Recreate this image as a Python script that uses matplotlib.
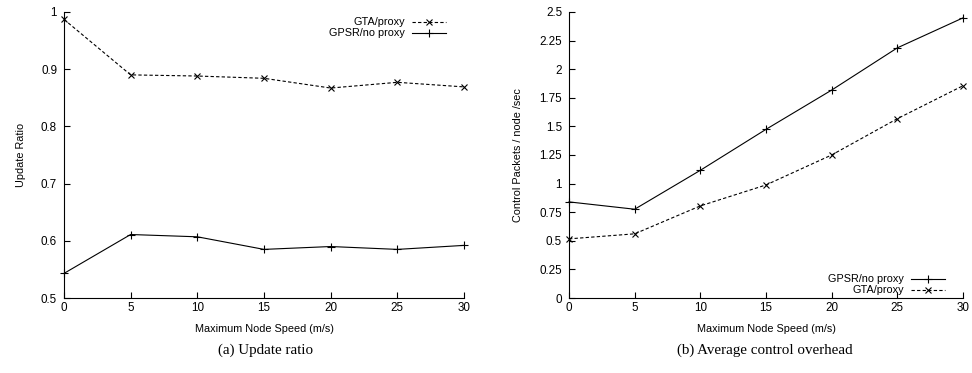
import matplotlib
matplotlib.use('Agg')
import matplotlib.pyplot as plt

plt.rcParams['font.family'] = ['Liberation Sans', 'DejaVu Sans']

# data
speed = [0, 5, 10, 15, 20, 25, 30]
upd_gta = [0.987, 0.890, 0.888, 0.884, 0.867, 0.877, 0.869]
upd_gpsr = [0.543, 0.611, 0.607, 0.585, 0.590, 0.585, 0.592]
ovh_gpsr = [0.84, 0.776, 1.116, 1.474, 1.817, 2.186, 2.448]
ovh_gta = [0.517, 0.561, 0.805, 0.988, 1.250, 1.567, 1.855]
upd_ticks = [0.5, 0.6, 0.7, 0.8, 0.9, 1]
ovh_ticks = [0, 0.25, 0.5, 0.75, 1, 1.25, 1.5, 1.75, 2, 2.25, 2.5]
ovh_labels = ['0', '0.25', '0.5', '0.75', '1', '1.25', '1.5', '1.75', '2', '2.25', '2.5']

fig = plt.figure(figsize=(9.72, 3.73), dpi=100)
ax1 = fig.add_axes([0.0658, 0.201, 0.4116, 0.767])
ax2 = fig.add_axes([0.5854, 0.201, 0.4053, 0.767])

lw = 0.8
dash = (0, (3, 2))
fs = 7.8
tfs = 8.4


def style(ax):
    for s in ['top', 'right']:
        ax.spines[s].set_visible(False)
    for s in ['left', 'bottom']:
        ax.spines[s].set_linewidth(0.8)
    ax.tick_params(direction='in', length=4, width=0.8, labelsize=tfs)
    ax.tick_params(axis='y', pad=5)
    ax.tick_params(axis='x', pad=3)
    ax.set_xlim(0, 30)
    ax.set_xticks(speed)
    ax.set_xlabel('Maximum Node Speed (m/s)', fontsize=fs, labelpad=7)


ax1.plot(speed, upd_gta, color='black', lw=lw, ls=dash, marker='x', ms=5, mew=0.8,
         clip_on=False, label='GTA/proxy')
ax1.plot(speed, upd_gpsr, color='black', lw=lw, marker='+', ms=6, mew=0.8,
         clip_on=False, label='GPSR/no proxy')
ax1.set_ylim(0.5, 1)
ax1.set_yticks(upd_ticks)
ax1.set_yticklabels(['0.5', '0.6', '0.7', '0.8', '0.9', '1'])
style(ax1)
ax1.set_ylabel('Update Ratio', fontsize=fs, labelpad=11)
ax1.legend(loc='upper right', bbox_to_anchor=(0.98, 1.015), frameon=False, markerfirst=False,
           fontsize=fs, handlelength=3.2, handletextpad=0.6, labelspacing=0.1)

ax2.plot(speed, ovh_gpsr, color='black', lw=lw, marker='+', ms=6, mew=0.8,
         clip_on=False, label='GPSR/no proxy')
ax2.plot(speed, ovh_gta, color='black', lw=lw, ls=dash, marker='x', ms=5, mew=0.8,
         clip_on=False, label='GTA/proxy')
ax2.set_ylim(0, 2.5)
ax2.set_yticks(ovh_ticks)
ax2.set_yticklabels(ovh_labels)
style(ax2)
ax2.set_ylabel('Control Packets / node /sec', fontsize=fs, labelpad=12)
ax2.legend(loc='lower right', bbox_to_anchor=(0.98, -0.025), frameon=False, markerfirst=False,
           fontsize=fs, handlelength=3.2, handletextpad=0.6, labelspacing=0.1)

fig.text(0.273, 0.06, '(a) Update ratio', ha='center', va='center', fontsize=10.8,
         family=['Liberation Serif', 'DejaVu Serif'])
fig.text(0.787, 0.06, '(b) Average control overhead', ha='center', va='center', fontsize=10.8,
         family=['Liberation Serif', 'DejaVu Serif'])

fig.savefig('out.png', dpi=100)
